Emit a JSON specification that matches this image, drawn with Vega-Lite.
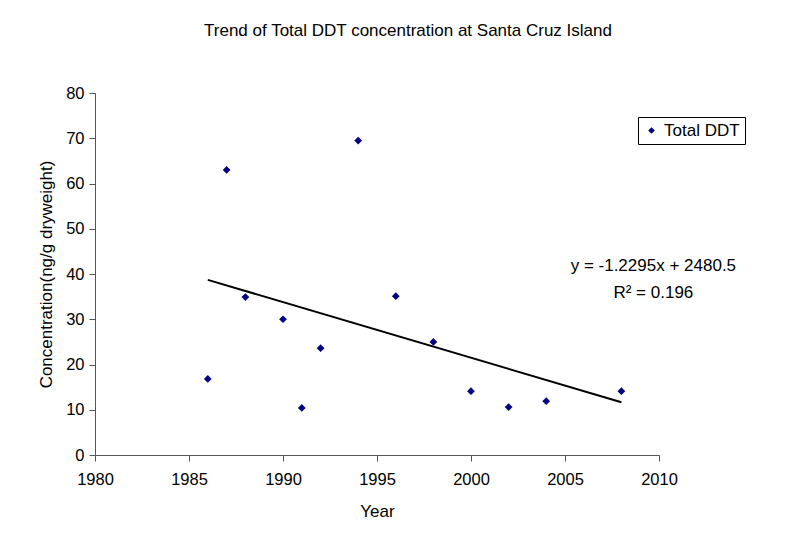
{
  "$schema": "https://vega.github.io/schema/vega-lite/v6.json",
  "width": 564,
  "height": 362,
  "autosize": {"type": "none"},
  "padding": {"left": 95, "top": 93, "right": 152, "bottom": 91},
  "background": "white",
  "title": {
    "text": "Trend of Total DDT concentration at Santa Cruz Island",
    "font": "Liberation Sans",
    "fontSize": 17,
    "fontWeight": "normal",
    "color": "black",
    "anchor": "middle",
    "dx": 31,
    "offset": 45
  },
  "config": {
    "view": {"stroke": null},
    "font": "Liberation Sans",
    "axis": {
      "grid": false,
      "domainColor": "#555",
      "tickColor": "#555",
      "labelFont": "Liberation Sans",
      "titleFont": "Liberation Sans",
      "labelFontSize": 16.5,
      "titleFontSize": 17,
      "labelColor": "black",
      "titleColor": "black",
      "titleFontWeight": "normal",
      "tickSize": 6,
      "labelFlush": false
    }
  },
  "datasets": {
    "ddt": [
      {"Year": 1986, "Concentration": 16.8, "Series": "Total DDT"},
      {"Year": 1987, "Concentration": 63.0, "Series": "Total DDT"},
      {"Year": 1988, "Concentration": 34.9, "Series": "Total DDT"},
      {"Year": 1990, "Concentration": 30.0, "Series": "Total DDT"},
      {"Year": 1991, "Concentration": 10.4, "Series": "Total DDT"},
      {"Year": 1992, "Concentration": 23.6, "Series": "Total DDT"},
      {"Year": 1994, "Concentration": 69.5, "Series": "Total DDT"},
      {"Year": 1996, "Concentration": 35.1, "Series": "Total DDT"},
      {"Year": 1998, "Concentration": 25.0, "Series": "Total DDT"},
      {"Year": 2000, "Concentration": 14.1, "Series": "Total DDT"},
      {"Year": 2002, "Concentration": 10.6, "Series": "Total DDT"},
      {"Year": 2004, "Concentration": 11.9, "Series": "Total DDT"},
      {"Year": 2008, "Concentration": 14.1, "Series": "Total DDT"}
    ],
    "trend": [
      {"Year": 1986, "Concentration": 38.71},
      {"Year": 2008, "Concentration": 11.66}
    ],
    "labels": [
      {"Year": 2009.7, "Concentration": 41.8, "label": "y = -1.2295x + 2480.5"},
      {"Year": 2009.7, "Concentration": 35.8, "label": "R² = 0.196"}
    ]
  },
  "layer": [
    {
      "data": {"name": "trend"},
      "mark": {"type": "line", "color": "black", "strokeWidth": 2},
      "encoding": {
        "x": {"field": "Year", "type": "quantitative"},
        "y": {"field": "Concentration", "type": "quantitative"}
      }
    },
    {
      "data": {"name": "ddt"},
      "mark": {"type": "point", "shape": "diamond", "filled": true, "size": 60, "opacity": 1},
      "encoding": {
        "x": {
          "field": "Year",
          "type": "quantitative",
          "scale": {"domain": [1980, 2010], "nice": false, "zero": false},
          "axis": {"values": [1980, 1985, 1990, 1995, 2000, 2005, 2010], "format": "d", "title": "Year", "labelPadding": 10, "titlePadding": 16}
        },
        "y": {
          "field": "Concentration",
          "type": "quantitative",
          "scale": {"domain": [0, 80], "nice": false},
          "axis": {"values": [0, 10, 20, 30, 40, 50, 60, 70, 80], "title": "Concentration(ng/g dryweight)", "labelPadding": 5, "titlePadding": 10}
        },
        "color": {
          "field": "Series",
          "type": "nominal",
          "scale": {"range": ["#000080"]},
          "legend": {
            "title": null,
            "orient": "none",
            "legendX": 543,
            "legendY": 24,
            "strokeColor": "black",
            "padding": 5,
            "labelFontSize": 17,
            "labelFont": "Liberation Sans",
            "labelColor": "black",
            "symbolType": "diamond",
            "symbolSize": 45,
            "labelOffset": 4,
            "fillColor": "white"
          }
        }
      }
    },
    {
      "data": {"name": "labels"},
      "mark": {"type": "text", "fontSize": 17, "font": "Liberation Sans", "color": "black", "align": "center", "baseline": "middle"},
      "encoding": {
        "x": {"field": "Year", "type": "quantitative"},
        "y": {"field": "Concentration", "type": "quantitative"},
        "text": {"field": "label"}
      }
    }
  ]
}
